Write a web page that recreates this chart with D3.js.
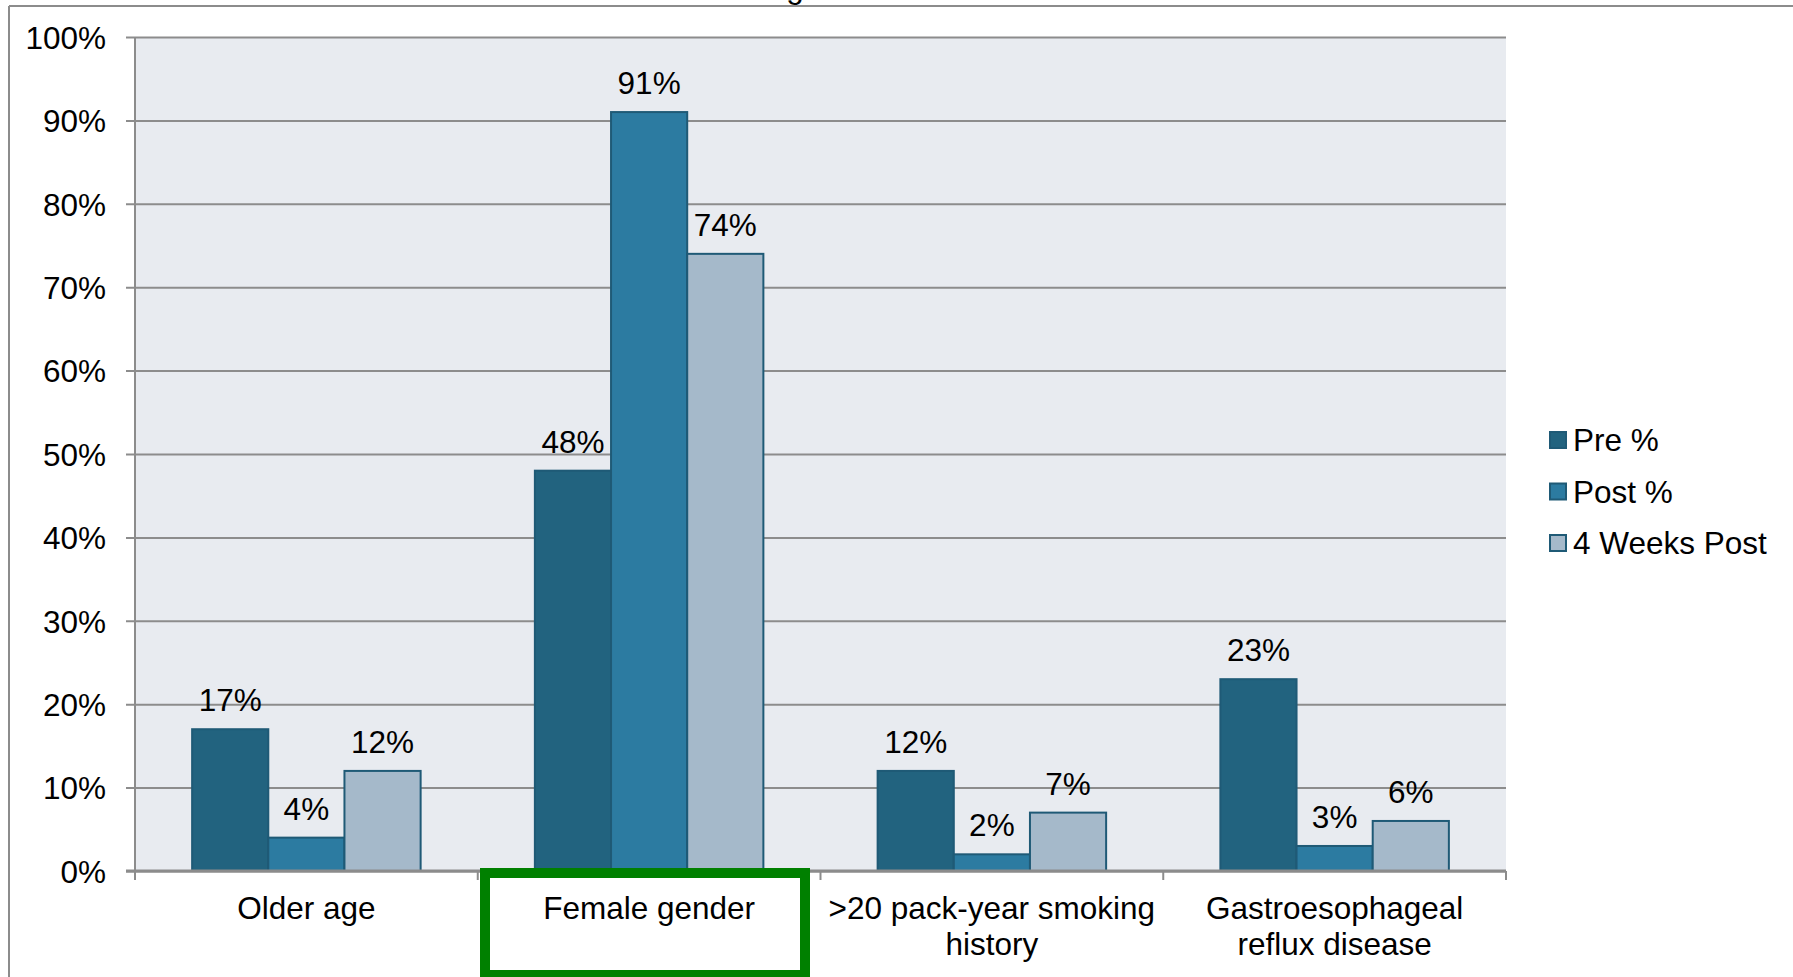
<!DOCTYPE html>
<html>
<head>
<meta charset="utf-8">
<script src="https://cdn.jsdelivr.net/npm/d3@7/dist/d3.min.js"></script>
<style>
  html, body { margin: 0; padding: 0; background: #fff; }
  svg { display: block; font-family: 'Liberation Sans', Arial, sans-serif; }
</style>
</head>
<body>
<svg id="chart"></svg>
<script>
const categories = [
  ['Older age'],
  ['Female gender'],
  ['>20 pack-year smoking', 'history'],
  ['Gastroesophageal', 'reflux disease'],
];
const seriesNames = ['Pre %', 'Post %', '4 Weeks Post'];
const preValues = [17, 48, 12, 23];
const postValues = [4, 91, 2, 3];
const weeksValues = [12, 74, 7, 6];
const yTicks = [0, 10, 20, 30, 40, 50, 60, 70, 80, 90, 100];

const colors = ['#22637f', '#2c7ba1', '#a5b9ca'];
const strokeColor = '#1f5a76';
const gridColor = '#8c8c8c';
const fontSize = 31.5;

const w = 1793; // svg width
const h = 977; // svg height
const plotLeft = 135;
const plotRight = 1506;
const plotTop = 37; // 100% line
const plotBottom = 871; // 0% line

const allSeries = [preValues, postValues, weeksValues];

const svg = d3.select('#chart').attr('width', w).attr('height', h);

// outer chart frame (only the left and top edges are in view)
svg.append('line').attr('x1', 9).attr('x2', w).attr('y1', 6).attr('y2', 6)
  .attr('stroke', gridColor).attr('stroke-width', 2);
svg.append('line').attr('x1', 9).attr('x2', 9).attr('y1', 6).attr('y2', h)
  .attr('stroke', gridColor).attr('stroke-width', 2);

// clipped title, only a descender shows below the frame
svg.append('text').attr('x', 795).attr('y', -2).attr('text-anchor', 'middle')
  .attr('font-size', fontSize).attr('fill', '#000').text('g');

const xScale = d3.scaleBand().domain(d3.range(categories.length)).range([plotLeft, plotRight]);
const bw = xScale.bandwidth();
const xInner = d3.scaleBand().domain(d3.range(seriesNames.length)).range([bw / 6, bw * 5 / 6]);
const yScale = d3.scaleLinear().domain([0, 100]).range([plotBottom, plotTop]);

// plot background
svg.append('rect').attr('x', plotLeft).attr('y', plotTop)
  .attr('width', plotRight - plotLeft).attr('height', plotBottom - plotTop).attr('fill', '#e8ebf0');

// gridlines + y ticks
const yAxis = d3.axisLeft(yScale).tickValues(yTicks).tickSize(plotRight - plotLeft + 9)
  .tickFormat((d) => d + '%');
const yg = svg.append('g').attr('transform', 'translate(' + plotRight + ',0)').call(yAxis);
yg.select('.domain').remove();
yg.selectAll('.tick line').attr('stroke', gridColor).attr('stroke-width', 2);
yg.selectAll('.tick text').attr('font-size', fontSize).attr('fill', '#000')
  .attr('font-family', 'Liberation Sans, Arial, sans-serif')
  .attr('x', -(plotRight - plotLeft) - 29).attr('dy', '0.36em');

// y axis line
svg.append('line').attr('x1', plotLeft).attr('x2', plotLeft).attr('y1', plotTop).attr('y2', plotBottom)
  .attr('stroke', gridColor).attr('stroke-width', 2);

// bars
allSeries.forEach((vals, s) => {
  const g = svg.append('g');
  g.selectAll('rect').data(vals).enter().append('rect')
    .attr('x', (d, i) => xScale(i) + xInner(s))
    .attr('y', (d) => yScale(d))
    .attr('width', xInner.bandwidth())
    .attr('height', (d) => plotBottom - yScale(d))
    .attr('fill', colors[s])
    .attr('stroke', strokeColor).attr('stroke-width', 2);
  g.selectAll('text').data(vals).enter().append('text')
    .attr('x', (d, i) => xScale(i) + xInner(s) + xInner.bandwidth() / 2)
    .attr('y', (d) => yScale(d) - 18)
    .attr('text-anchor', 'middle').attr('font-size', fontSize).attr('fill', '#000')
    .text((d) => d + '%');
});

// x axis
const boundaries = d3.range(categories.length + 1).map((i) => plotLeft + i * bw);
svg.append('line').attr('x1', plotLeft - 9).attr('x2', plotRight).attr('y1', plotBottom).attr('y2', plotBottom)
  .attr('stroke', gridColor).attr('stroke-width', 3);
svg.selectAll('.xtick').data(boundaries).enter().append('line')
  .attr('x1', (d) => d).attr('x2', (d) => d).attr('y1', plotBottom).attr('y2', plotBottom + 9)
  .attr('stroke', gridColor).attr('stroke-width', 2);

const catText = svg.selectAll('.cat').data(categories).enter().append('text')
  .attr('text-anchor', 'middle').attr('font-size', fontSize).attr('fill', '#000');
catText.selectAll('tspan').data((d, i) => d.map((line) => ({ line, i }))).enter().append('tspan')
  .attr('x', (d) => xScale(d.i) + bw / 2)
  .attr('y', (d, j) => 919 + j * 36)
  .text((d) => d.line);

// green highlight around "Female gender"
svg.append('rect').attr('x', 485).attr('y', 873).attr('width', 320).attr('height', 102)
  .attr('fill', 'none').attr('stroke', '#008000').attr('stroke-width', 10);

// legend
const legend = svg.append('g').selectAll('g').data(seriesNames).enter().append('g')
  .attr('transform', (d, i) => 'translate(1550,' + (440 + i * 51.5) + ')');
legend.append('rect').attr('x', 0).attr('y', -8).attr('width', 16).attr('height', 16)
  .attr('fill', (d, i) => colors[i]).attr('stroke', strokeColor).attr('stroke-width', 2);
legend.append('text').attr('x', 23).attr('dy', '0.36em').attr('font-size', fontSize).attr('fill', '#000')
  .text((d) => d);
</script>
</body>
</html>
